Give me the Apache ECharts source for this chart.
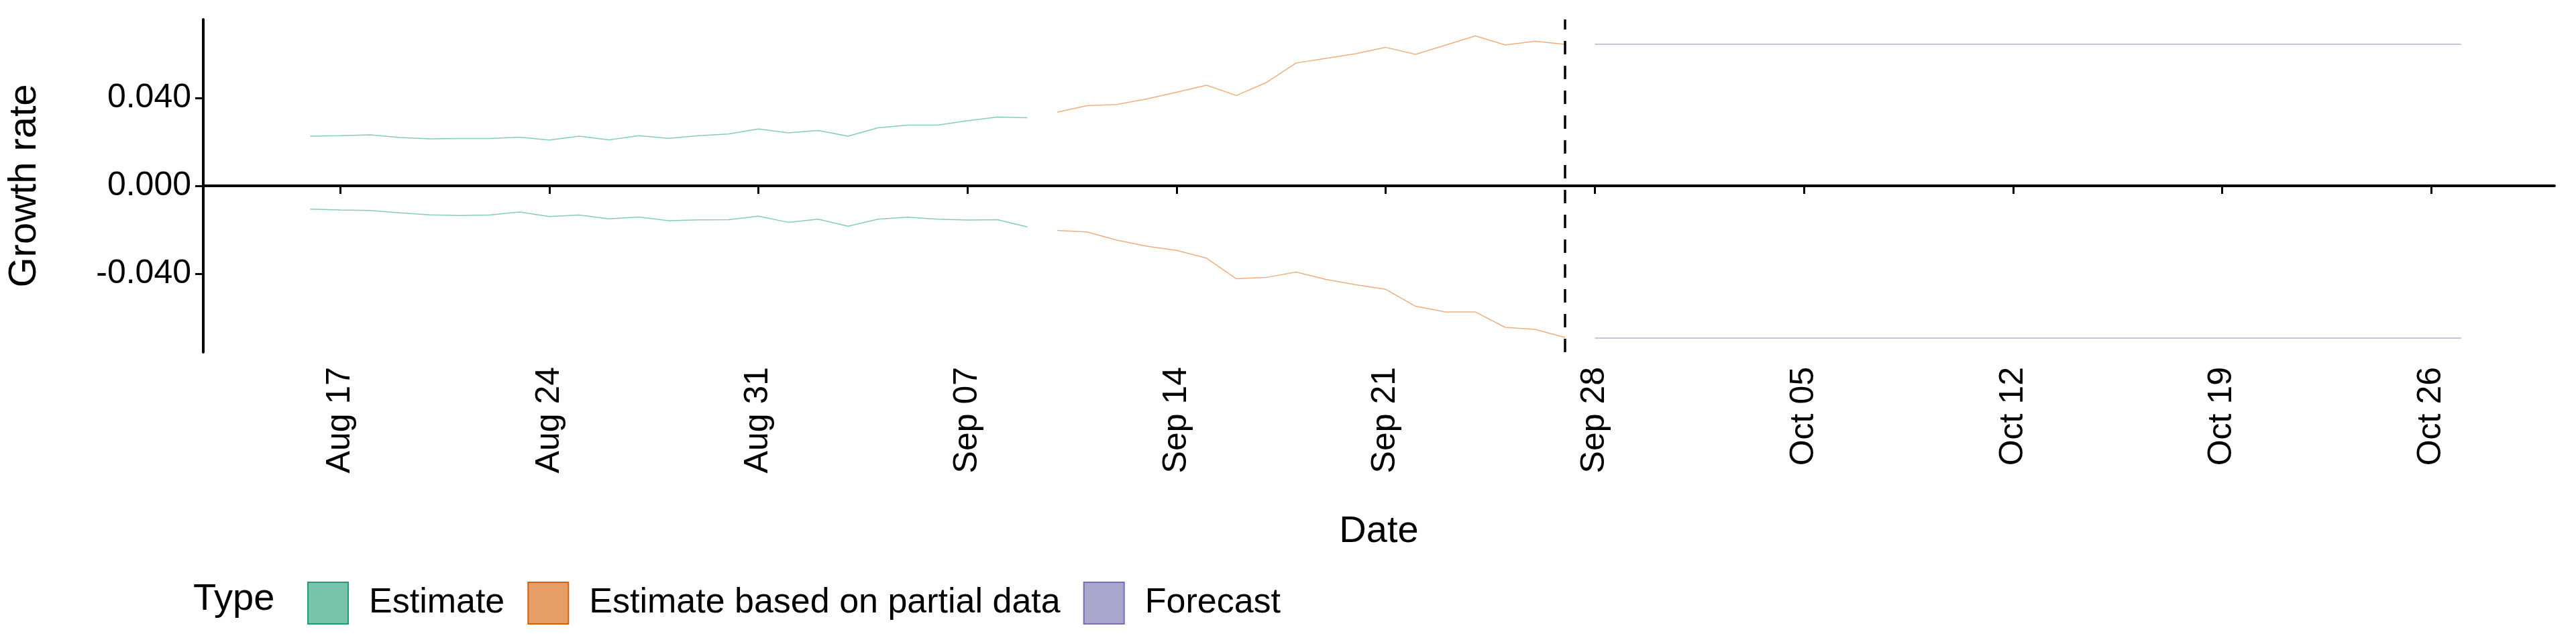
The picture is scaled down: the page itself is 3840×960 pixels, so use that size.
<!DOCTYPE html>
<html>
<head>
<meta charset="utf-8">
<script src="https://cdn.jsdelivr.net/npm/echarts@6/dist/echarts.min.js"></script>
<style>
  html, body { margin: 0; padding: 0; background: #fff; }
  #chart { width: 3840px; height: 960px; }
</style>
</head>
<body>
<div id="chart"></div>
<script>
const DAY = 86400000;
const days = (y, m, d, n) => Array.from({ length: n }, (_, i) => Date.UTC(y, m, d) + i * DAY);

// Estimate: Aug 16 - Sep 09
const estDates = days(2020, 7, 16, 25);
const estOuterLo = [-0.0106,-0.0110,-0.0112,-0.0123,-0.0132,-0.0135,-0.0133,-0.0119,-0.0140,-0.0133,-0.0150,-0.0142,-0.0159,-0.0155,-0.0154,-0.0138,-0.0166,-0.0152,-0.0184,-0.0152,-0.0143,-0.0152,-0.0156,-0.0154,-0.0187];
const estOuterHi = [0.0226,0.0228,0.0232,0.0220,0.0214,0.0215,0.0215,0.0221,0.0208,0.0226,0.0209,0.0228,0.0216,0.0228,0.0236,0.0259,0.0241,0.0252,0.0226,0.0264,0.0276,0.0276,0.0296,0.0313,0.0310];
const estMidLo = [0.0025,0.0024,0.0021,0.0018,0.0016,0.0015,0.0021,0.0025,0.0021,0.0016,0.0011,0.0013,0.0016,0.0015,0.0014,0.0013,0.0010,-0.0011,0.0004,0.0008,0.0005,0.0004,0.0004,0.0005,0.0008];
const estMidHi = [0.0117,0.0114,0.0112,0.0107,0.0106,0.0106,0.0112,0.0118,0.0110,0.0108,0.0106,0.0113,0.0114,0.0119,0.0121,0.0119,0.0117,0.0107,0.0125,0.0128,0.0129,0.0132,0.0131,0.0138,0.0149];
const estInLo = [0.0062,0.0061,0.0057,0.0053,0.0051,0.0049,0.0053,0.0060,0.0053,0.0049,0.0045,0.0049,0.0049,0.0050,0.0050,0.0052,0.0049,0.0040,0.0049,0.0051,0.0049,0.0049,0.0049,0.0051,0.0053];
const estInHi = [0.0095,0.0094,0.0090,0.0086,0.0085,0.0085,0.0090,0.0092,0.0087,0.0085,0.0084,0.0088,0.0089,0.0090,0.0092,0.0093,0.0089,0.0082,0.0095,0.0096,0.0095,0.0095,0.0095,0.0097,0.0099];

// Estimate based on partial data: Sep 10 - Sep 27
const partDates = days(2020, 8, 10, 18);
const partOuterLo = [-0.0203,-0.0210,-0.0247,-0.0275,-0.0294,-0.0329,-0.0423,-0.0417,-0.0392,-0.0426,-0.0450,-0.0471,-0.0548,-0.0574,-0.0574,-0.0644,-0.0653,-0.0690];
const partOuterHi = [0.0335,0.0365,0.0370,0.0395,0.0426,0.0458,0.0411,0.0470,0.0559,0.0580,0.0601,0.0630,0.0598,0.0640,0.0682,0.0641,0.0658,0.0644];
const partMidLo = [-0.0005,-0.0014,-0.0019,-0.0022,-0.0025,-0.0027,-0.0033,-0.0038,-0.0036,-0.0025,-0.0046,-0.0047,-0.0055,-0.0062,-0.0055,-0.0034,-0.0049,-0.0078];
const partMidHi = [0.0147,0.0152,0.0150,0.0150,0.0152,0.0158,0.0167,0.0171,0.0185,0.0206,0.0193,0.0197,0.0201,0.0196,0.0213,0.0234,0.0227,0.0213];
const partInLo = [0.0032,0.0033,0.0033,0.0036,0.0038,0.0036,0.0033,0.0038,0.0038,0.0036,0.0027,0.0034,0.0033,0.0040,0.0043,0.0038,0.0036,0.0029];
const partInHi = [0.0078,0.0084,0.0087,0.0093,0.0094,0.0093,0.0090,0.0098,0.0104,0.0098,0.0095,0.0104,0.0101,0.0112,0.0112,0.0109,0.0106,0.0106];

// Forecast: Sep 28 - Oct 27 (flat)
const fcDates = [Date.UTC(2020, 8, 28), Date.UTC(2020, 9, 27)];
const fcOuterLo = [-0.0693, -0.0693];
const fcOuterHi = [0.0644, 0.0644];
const fcMidLo = [-0.0079, -0.0079];
const fcMidHi = [0.0208, 0.0208];
const fcInLo = [0.0027, 0.0027];
const fcInHi = [0.0104, 0.0104];

const tickDates = [Date.UTC(2020,7,17), Date.UTC(2020,7,24), Date.UTC(2020,7,31), Date.UTC(2020,8,7), Date.UTC(2020,8,14), Date.UTC(2020,8,21), Date.UTC(2020,8,28), Date.UTC(2020,9,5), Date.UTC(2020,9,12), Date.UTC(2020,9,19), Date.UTC(2020,9,26)];
const yTicks = [-0.04, 0, 0.04];
const lastDataDate = Date.UTC(2020, 8, 27);
const MONTHS = ['Jan','Feb','Mar','Apr','May','Jun','Jul','Aug','Sep','Oct','Nov','Dec'];

const series = [];
let bandId = 0;
function band(dates, lo, hi, color, edge) {
  const key = 'band' + (bandId++);
  series.push({
    type: 'line', stack: key, stackStrategy: 'all', symbol: 'none', silent: true,
    lineStyle: { width: 0 }, data: dates.map((d, i) => [d, lo[i]])
  });
  series.push({
    type: 'line', stack: key, stackStrategy: 'all', symbol: 'none', silent: true,
    lineStyle: { width: 0 }, areaStyle: { color: color, opacity: 1 },
    data: dates.map((d, i) => [d, hi[i] - lo[i]])
  });
  if (edge) {
    [lo, hi].forEach(arr => series.push({
      type: 'line', symbol: 'none', silent: true,
      lineStyle: { width: 1.5, color: edge },
      data: dates.map((d, i) => [d, arr[i]])
    }));
  }
}

band(estDates, estOuterLo, estOuterHi, '#d2ebe2', '#86cdb5');
band(estDates, estMidLo, estMidHi, '#9dd5c3');
band(estDates, estInLo, estInHi, '#78c3ab');
band(partDates, partOuterLo, partOuterHi, '#f7ddca', '#f0ae80');
band(partDates, partMidLo, partMidHi, '#edba8e');
band(partDates, partInLo, partInHi, '#e69d66');
band(fcDates, fcOuterLo, fcOuterHi, '#e2e2ef', '#b3b0d6');
band(fcDates, fcMidLo, fcMidHi, '#c3c1dd');
band(fcDates, fcInLo, fcInHi, '#aaa7cf');

// reference lines
series.push({
  type: 'line', data: [], z: 10,
  markLine: {
    silent: true, symbol: 'none', label: { show: false },
    lineStyle: { color: '#000', width: 3.5, type: [20, 17] },
    data: [{ yAxis: 0 }, { xAxis: lastDataDate }]
  }
});

// legend entries
[['Estimate', '#78c3ab', '#1b9e77'], ['Estimate based on partial data', '#e69d66', '#d95f02'], ['Forecast', '#aaa7cf', '#7570b3']]
  .forEach(([name, fill, border]) => series.push({
    type: 'bar', name: name, data: [],
    itemStyle: { color: fill, borderColor: border, borderWidth: 5 }
  }));

const chart = echarts.init(document.getElementById('chart'));
chart.setOption({
  animation: false,
  backgroundColor: '#fff',
  textStyle: { fontFamily: 'Liberation Sans, Arial, sans-serif' },
  grid: { left: 288, right: 32, top: 29, bottom: 435 },
  xAxis: {
    type: 'value',
    min: Date.UTC(2020, 7, 12, 10),
    max: Date.UTC(2020, 9, 30, 3),
    name: 'Date', nameLocation: 'middle', nameGap: 240,
    nameTextStyle: { fontSize: 56, color: '#000' },
    axisLine: { lineStyle: { color: '#000', width: 4 } },
    axisTick: { show: true, customValues: tickDates, length: 12, lineStyle: { color: '#000', width: 3 } },
    axisLabel: {
      customValues: tickDates, rotate: 90, margin: 22, fontSize: 50, color: '#000',
      formatter: v => { const d = new Date(v); return MONTHS[d.getUTCMonth()] + ' ' + String(d.getUTCDate()).padStart(2, '0'); }
    },
    splitLine: { show: false }
  },
  yAxis: {
    type: 'value', min: -0.0757, max: 0.0757,
    name: 'Growth rate', nameLocation: 'middle', nameGap: 237, nameRotate: 90,
    nameTextStyle: { fontSize: 58, color: '#000' },
    axisLine: { show: true, lineStyle: { color: '#000', width: 4 } },
    axisTick: { show: true, customValues: yTicks, length: 12, lineStyle: { color: '#000', width: 3 } },
    axisLabel: { customValues: yTicks, fontSize: 50, color: '#000', margin: 18, formatter: v => v.toFixed(3) },
    splitLine: { show: false }
  },
  legend: {
    left: 453, top: 862, orient: 'horizontal',
    itemWidth: 60, itemHeight: 62, itemGap: 34, icon: 'rect',
    textStyle: { fontSize: 52, color: '#000', padding: [0, 0, 0, 26] },
    data: ['Estimate', 'Estimate based on partial data', 'Forecast']
  },
  graphic: [{
    type: 'text', left: 288, top: 866,
    style: { text: 'Type', fontSize: 56, fill: '#000', fontFamily: 'Liberation Sans, Arial, sans-serif' }
  }],
  series: series
});
</script>
</body>
</html>
